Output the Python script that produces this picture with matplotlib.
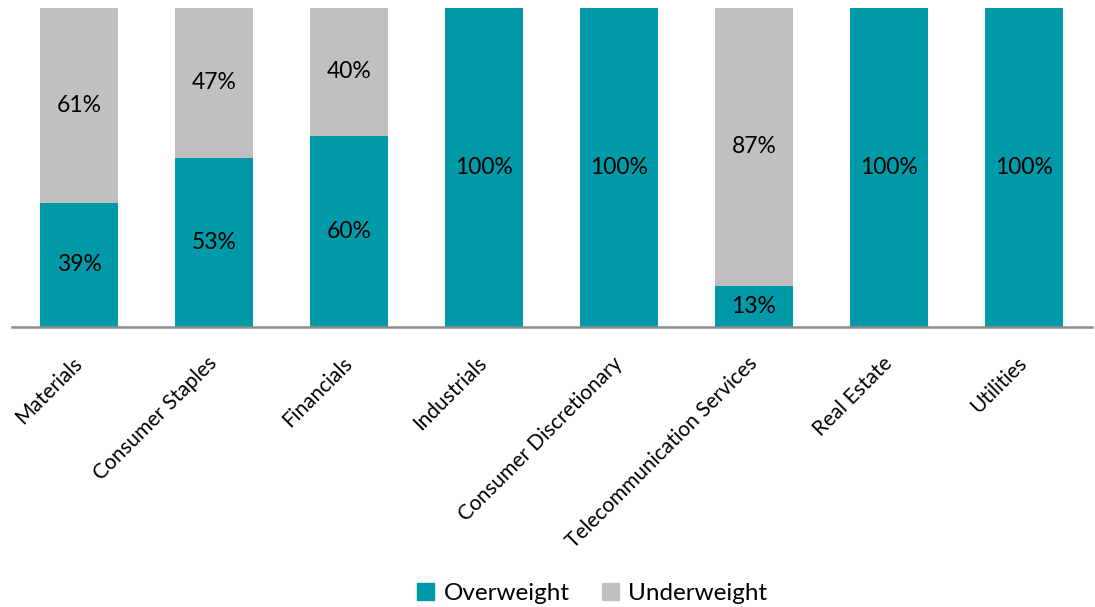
import matplotlib
matplotlib.use("Agg")
import matplotlib.pyplot as plt
from matplotlib.patches import Patch

plt.rcParams['font.family'] = ['Lato', 'DejaVu Sans']

sectors = ["Materials", "Consumer Staples", "Financials", "Industrials",
           "Consumer Discretionary", "Telecommunication Services",
           "Real Estate", "Utilities"]
overweight = [39, 53, 60, 100, 100, 13, 100, 100]
underweight = [61, 47, 40, 0, 0, 87, 0, 0]

TEAL = "#0099A8"
GREY = "#C0C0C0"

fig = plt.figure(figsize=(10.95, 6.07), dpi=100)
ax = fig.add_axes([11.5 / 1095, (607 - 327) / 607, 1080 / 1095, 319 / 607])

x = list(range(len(sectors)))
width = 0.58
ax.bar(x, overweight, width, color=TEAL, zorder=2)
ax.bar(x, underweight, width, bottom=overweight, color=GREY, zorder=2)

for i in x:
    ov, uw = overweight[i], underweight[i]
    if ov > 0:
        ax.text(i, ov / 2, f"{ov}%", ha="center", va="center",
                fontsize=16.5, color="black", zorder=3)
    if uw > 0:
        ax.text(i, ov + uw / 2, f"{uw}%", ha="center", va="center",
                fontsize=16.5, color="black", zorder=3)

ax.set_xlim(-0.5, len(sectors) - 0.5)
ax.set_ylim(0, 100)
ax.set_yticks([])
for side in ("top", "right", "left"):
    ax.spines[side].set_visible(False)
ax.spines["bottom"].set_color("#8C8C8C")
ax.spines["bottom"].set_linewidth(1.8)
ax.spines["bottom"].set_zorder(4)

ax.set_xticks(x)
ax.set_xticklabels(sectors, rotation=45, ha="right", va="center",
                   rotation_mode="anchor", fontsize=15)
ax.tick_params(axis="x", length=0, pad=24)

handles = [Patch(color=TEAL, label="Overweight"),
           Patch(color=GREY, label="Underweight")]
fig.legend(handles=handles, loc="center", bbox_to_anchor=(0.541, 0.023),
           ncol=2, frameon=False, fontsize=17.5, handlelength=0.7,
           handleheight=0.7, handletextpad=0.4, columnspacing=1.3)

fig.savefig("out.png", dpi=100)
